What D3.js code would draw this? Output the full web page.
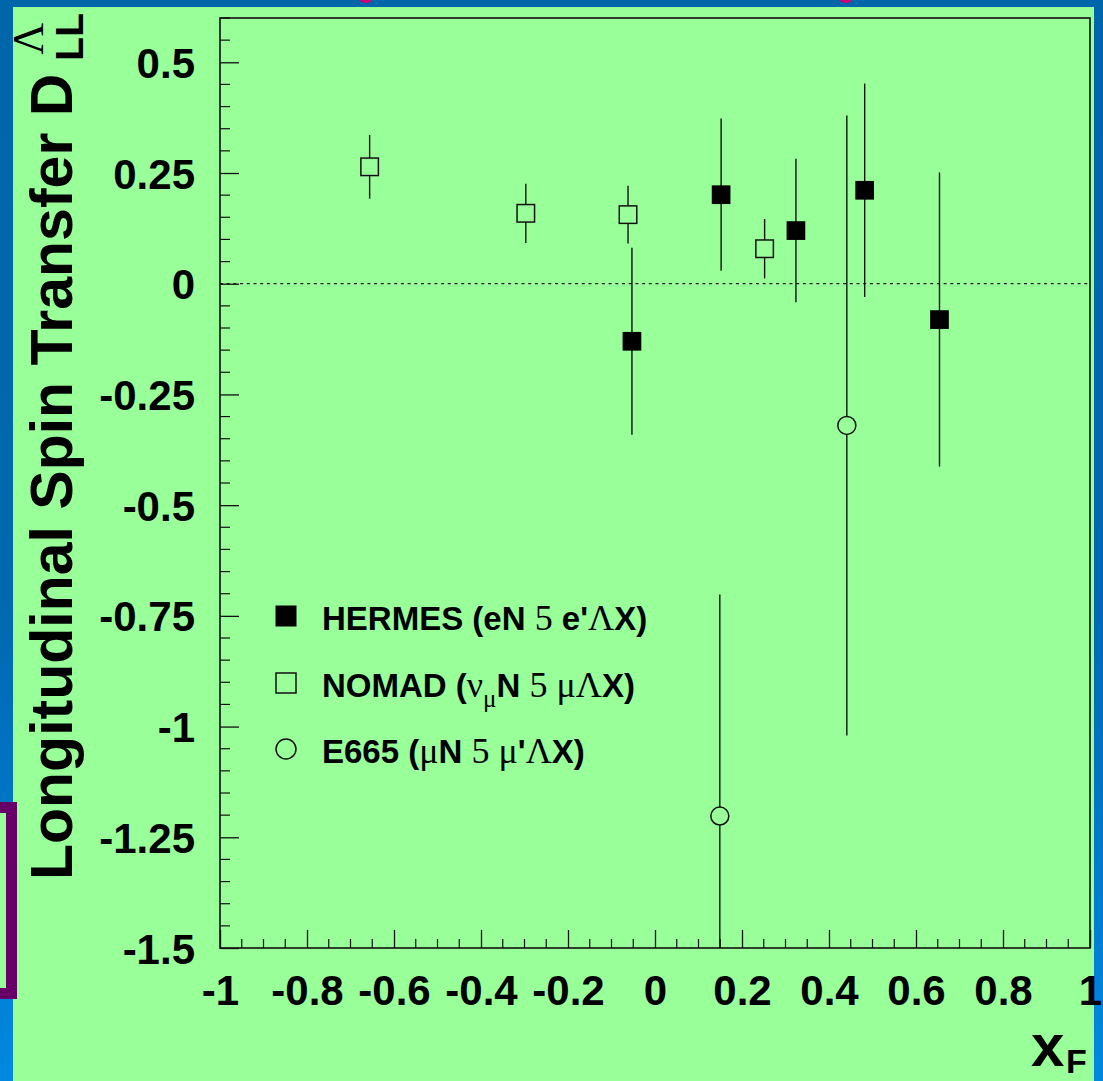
<!DOCTYPE html>
<html><head><meta charset="utf-8">
<script src="https://cdn.jsdelivr.net/npm/d3@7"></script>
<style>html,body{margin:0;padding:0;overflow:hidden;background:#0066aa;}svg{display:block;}</style>
</head><body>
<svg id="chart" width="1103" height="1081"></svg>
<script>
// ---- data ----
const hermesX   = [-0.053, 0.152, 0.324, 0.482, 0.654];
const hermesY   = [-0.130, 0.201, 0.120, 0.211, -0.081];
const hermesErr = [0.211, 0.172, 0.162, 0.241, 0.332];

const nomadX    = [-0.656, -0.297, -0.062, 0.252];
const nomadY    = [0.264, 0.159, 0.156, 0.079];
const nomadErr  = [0.072, 0.067, 0.065, 0.067];

const e665X     = [0.149, 0.441];
const e665Y     = [-1.202, -0.320];
const e665Err   = [0.50, 0.70];

const xTickValues = [-1, -0.8, -0.6, -0.4, -0.2, 0, 0.2, 0.4, 0.6, 0.8, 1];
const xTickLabels = ["-1", "-0.8", "-0.6", "-0.4", "-0.2", "0", "0.2", "0.4", "0.6", "0.8", "1"];
const yTickValues = [0.5, 0.25, 0, -0.25, -0.5, -0.75, -1, -1.25, -1.5];
const yTickLabels = ["0.5", "0.25", "0", "-0.25", "-0.5", "-0.75", "-1", "-1.25", "-1.5"];

// ---- layout ----
const svg = d3.select("#chart");
const W = 1103, H = 1081;
const L = 220, R = 1090, T = 18, B = 948;
const GREEN = "#99ff99", INK = "#111";
const SANS = "'Liberation Sans', Arial, Helvetica, sans-serif";
const SERIF = "'Liberation Serif', 'Times New Roman', serif";

// background
const defs = svg.append("defs");
const bg = defs.append("linearGradient").attr("id", "bgGrad").attr("x1", 0).attr("y1", 0).attr("x2", 0).attr("y2", 1);
bg.append("stop").attr("offset", "0%").attr("stop-color", "#0066aa");
bg.append("stop").attr("offset", "55%").attr("stop-color", "#0068b0");
bg.append("stop").attr("offset", "100%").attr("stop-color", "#0088e0");
svg.append("rect").attr("width", W).attr("height", H).attr("fill", "url(#bgGrad)");
// magenta fragments peeking at top
svg.append("ellipse").attr("cx", 366).attr("cy", 0).attr("rx", 6).attr("ry", 3).attr("fill", "#cc0077");
svg.append("ellipse").attr("cx", 846).attr("cy", 0).attr("rx", 6).attr("ry", 3).attr("fill", "#cc0077");
// green panel
svg.append("rect").attr("x", 13).attr("y", 7).attr("width", 1094 - 13).attr("height", H - 7).attr("fill", GREEN);
// purple frame at left
svg.append("rect").attr("x", -60).attr("y", 807.5).attr("width", 71.5).attr("height", 186)
  .attr("fill", GREEN).attr("stroke", "#660066").attr("stroke-width", 11);

// scales
const x = d3.scaleLinear().domain([-1, 1]).range([L, R]);
const y = d3.scaleLinear().domain([-1.5, 0.6]).range([B, T]);

defs.append("clipPath").attr("id", "plotClip").append("rect")
  .attr("x", L).attr("y", T).attr("width", R - L).attr("height", B - T);

// zero dashed line
svg.append("line").attr("x1", L).attr("x2", R).attr("y1", y(0)).attr("y2", y(0))
  .attr("stroke", "#222").attr("stroke-width", 1.2).attr("stroke-dasharray", "3,3.7");

// minor ticks
const yMinor = d3.range(-1.5, 0.6001, 0.05).filter(v => Math.abs(v / 0.25 - Math.round(v / 0.25)) > 1e-6);
const xMinor = d3.range(-1, 1.0001, 0.05).filter(v => Math.abs(v / 0.2 - Math.round(v / 0.2)) > 1e-6);
svg.append("g").selectAll("line").data(yMinor).join("line")
  .attr("x1", L).attr("x2", L + 10).attr("y1", d => y(d)).attr("y2", d => y(d))
  .attr("stroke", INK).attr("stroke-width", 1.2);
svg.append("g").selectAll("line").data(xMinor).join("line")
  .attr("x1", d => x(d)).attr("x2", d => x(d)).attr("y1", B).attr("y2", B - 9)
  .attr("stroke", INK).attr("stroke-width", 1.2);

// major axes
const yAxis = d3.axisLeft(y).tickValues(yTickValues)
  .tickFormat((d, i) => yTickLabels[i]).tickSizeInner(-19).tickSizeOuter(0).tickPadding(25);
const gy = svg.append("g").attr("transform", `translate(${L},0)`).call(yAxis);
const xAxis = d3.axisBottom(x).tickValues(xTickValues)
  .tickFormat((d, i) => xTickLabels[i]).tickSizeInner(-18).tickSizeOuter(0).tickPadding(27);
const gx = svg.append("g").attr("transform", `translate(0,${B})`).call(xAxis);
[gx, gy].forEach(g => {
  g.select(".domain").remove();
  g.selectAll(".tick line").attr("stroke", INK).attr("stroke-width", 1.3);
  g.selectAll(".tick text").attr("fill", "#000").attr("font-family", SANS)
    .attr("font-weight", "bold").attr("font-size", 42);
});
gy.selectAll(".tick text").attr("dy", "0.36em");

// frame
svg.append("rect").attr("x", L).attr("y", T).attr("width", R - L).attr("height", B - T)
  .attr("fill", "none").attr("stroke", INK).attr("stroke-width", 1.6);

// data layer
const plot = svg.append("g").attr("clip-path", "url(#plotClip)");
function errBars(xs, ys, es) {
  plot.append("g").selectAll("line").data(xs).join("line")
    .attr("x1", d => x(d)).attr("x2", d => x(d))
    .attr("y1", (d, i) => y(ys[i] + es[i])).attr("y2", (d, i) => y(ys[i] - es[i]))
    .attr("stroke", INK).attr("stroke-width", 1.4);
}
errBars(hermesX, hermesY, hermesErr);
errBars(nomadX, nomadY, nomadErr);
errBars(e665X, e665Y, e665Err);

const sq = 18.7, sqo = 17.5, rc = 9;
plot.append("g").selectAll("rect").data(hermesX).join("rect")
  .attr("x", d => x(d) - sq / 2).attr("y", (d, i) => y(hermesY[i]) - sq / 2)
  .attr("width", sq).attr("height", sq).attr("fill", "#000");
plot.append("g").selectAll("rect").data(nomadX).join("rect")
  .attr("x", d => x(d) - sqo / 2).attr("y", (d, i) => y(nomadY[i]) - sqo / 2)
  .attr("width", sqo).attr("height", sqo).attr("fill", GREEN).attr("stroke", INK).attr("stroke-width", 1.5);
plot.append("g").selectAll("circle").data(e665X).join("circle")
  .attr("cx", d => x(d)).attr("cy", (d, i) => y(e665Y[i])).attr("r", rc)
  .attr("fill", GREEN).attr("stroke", INK).attr("stroke-width", 1.5);

// legend
const legX = 286, legTextX = 322;
const legRows = [616, 683, 749];
const lg = svg.append("g");
lg.append("rect").attr("x", legX - 10.5).attr("y", legRows[0] - 10.5).attr("width", 21).attr("height", 21).attr("fill", "#000");
lg.append("rect").attr("x", legX - 10).attr("y", legRows[1] - 10).attr("width", 20).attr("height", 20)
  .attr("fill", "none").attr("stroke", INK).attr("stroke-width", 1.5);
lg.append("circle").attr("cx", legX).attr("cy", legRows[2]).attr("r", 10)
  .attr("fill", "none").attr("stroke", INK).attr("stroke-width", 1.5);

const legendParts = [
  [["HERMES (eN ", "b"], ["5", "s"], [" e'", "b"], ["Λ", "s"], ["X)", "b"]],
  [["NOMAD (", "b"], ["ν", "s"], ["μ", "sub"], ["N ", "b"], ["5 μΛ", "s"], ["X)", "b"]],
  [["E665 (", "b"], ["μ", "s"], ["N ", "b"], ["5 μ", "s"], ["'", "b"], ["Λ", "s"], ["X)", "b"]]
];
legendParts.forEach((parts, r) => {
  const t = lg.append("text").attr("x", legTextX).attr("y", legRows[r] + 14).attr("fill", "#000")
    .style("white-space", "pre").attr("xml:space", "preserve");
  let prevSub = false;
  parts.forEach(([s, k]) => {
    const ts = t.append("tspan").text(s);
    if (k === "b") ts.attr("font-family", SANS).attr("font-weight", "bold").attr("font-size", 33);
    else ts.attr("font-family", SERIF).attr("font-size", k === "sub" ? 25 : 36);
    if (k === "sub") { ts.attr("dy", 10); prevSub = true; }
    else if (prevSub) { ts.attr("dy", -10); prevSub = false; }
  });
});

// y axis title
const yt = svg.append("g").attr("transform", "translate(72,880) rotate(-90)");
const mainT = yt.append("text").attr("x", 0).attr("y", 0).attr("font-family", SANS)
  .attr("font-weight", "bold").attr("font-size", 59).attr("fill", "#000")
  .text("Longitudinal Spin Transfer D");
const len = mainT.node().getComputedTextLength();
yt.append("text").attr("x", len + 13).attr("y", 11).attr("font-family", SANS)
  .attr("font-weight", "bold").attr("font-size", 39).attr("fill", "#000").text("LL");
yt.append("text").attr("x", len + 19).attr("y", -29).attr("font-family", SERIF)
  .attr("font-size", 44).attr("fill", "#000").text("Λ");

// x axis title
svg.append("text").attr("x", 1031).attr("y", 1066).attr("font-family", SANS)
  .attr("font-weight", "bold").attr("font-size", 60).attr("fill", "#000").text("x");
svg.append("text").attr("x", 1066).attr("y", 1073).attr("font-family", SANS)
  .attr("font-weight", "bold").attr("font-size", 34).attr("fill", "#000").text("F");
</script>
</body></html>
